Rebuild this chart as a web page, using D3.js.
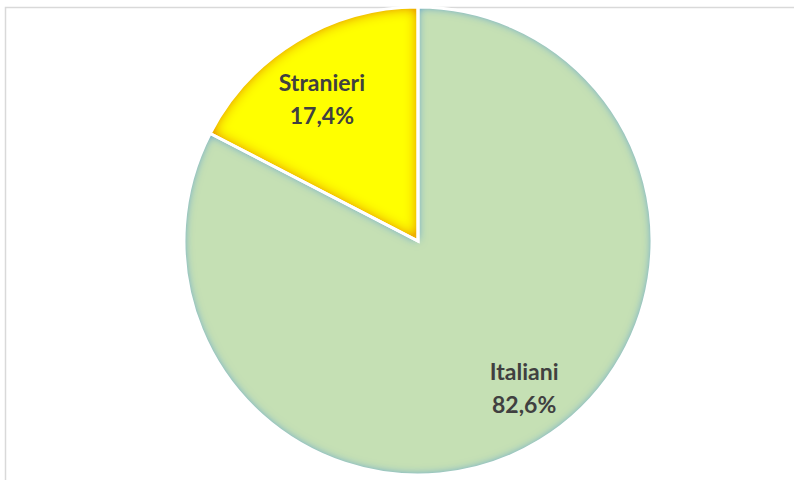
<!DOCTYPE html>
<html>
<head>
<meta charset="utf-8">
<script src="https://cdn.jsdelivr.net/npm/d3@7"></script>
<style>
  html, body { margin: 0; padding: 0; background: #ffffff; }
  svg { display: block; }
</style>
</head>
<body>
<svg id="chart" width="794" height="480"></svg>
<script>
// Composition of the population: Italians vs foreigners (percent)
const categories = ["Italiani", "Stranieri"];
const values = [82.6, 17.4];
const valueLabels = ["82,6%", "17,4%"];

const W = 794, H = 480;
const cx = 418, cy = 241, R = 234;

const fills = { "Italiani": "#c5e0b4", "Stranieri": "#ffff00" };
const edges = { "Italiani": "#82b9c4", "Stranieri": "#eeb000" };

const svg = d3.select("#chart");

// chart area frame
svg.append("rect")
  .attr("x", 5.5).attr("y", 7.5)
  .attr("width", W + 20).attr("height", H + 20)
  .attr("fill", "none")
  .attr("stroke", "#d9d9d9")
  .attr("stroke-width", 1.5);

// inner edge shading for each slice
const defs = svg.append("defs");
categories.forEach((c, i) => {
  const f = defs.append("filter")
    .attr("id", "inner" + i)
    .attr("x", "-10%").attr("y", "-10%")
    .attr("width", "120%").attr("height", "120%");
  f.append("feGaussianBlur").attr("in", "SourceAlpha")
    .attr("stdDeviation", c === "Stranieri" ? 7 : 5).attr("result", "blur");
  f.append("feComposite").attr("in", "SourceAlpha").attr("in2", "blur")
    .attr("operator", "out").attr("result", "rim0");
  const ct = f.append("feComponentTransfer").attr("in", "rim0").attr("result", "rim");
  ct.append("feFuncA").attr("type", "linear").attr("slope", 1.9).attr("intercept", 0);
  f.append("feFlood").attr("flood-color", edges[c]).attr("result", "col");
  f.append("feComposite").attr("in", "col").attr("in2", "rim")
    .attr("operator", "in").attr("result", "shade");
  f.append("feComposite").attr("in", "shade").attr("in2", "SourceAlpha")
    .attr("operator", "in").attr("result", "shadeClip");
  const m = f.append("feMerge");
  m.append("feMergeNode").attr("in", "SourceGraphic");
  m.append("feMergeNode").attr("in", "shadeClip");
});

const data = categories.map((c, i) => ({ name: c, value: values[i], label: valueLabels[i], idx: i }));

const pie = d3.pie().sort(null).value(d => d.value);
const arc = d3.arc().innerRadius(0).outerRadius(R);

const g = svg.append("g").attr("transform", `translate(${cx},${cy})`);

const arcs = pie(data);

g.selectAll("path.slice")
  .data(arcs)
  .join("path")
  .attr("class", "slice")
  .attr("d", arc)
  .attr("fill", d => fills[d.data.name])
  .attr("filter", d => `url(#inner${d.data.idx})`);

// white separators drawn over the slices
g.selectAll("path.sep")
  .data(arcs)
  .join("path")
  .attr("class", "sep")
  .attr("d", arc)
  .attr("fill", "none")
  .attr("stroke", "#ffffff")
  .attr("stroke-width", 3)
  .attr("stroke-linejoin", "miter");

// labels sit inside each slice, slightly rotated back from the mid-angle
const labelR = R * 0.755;
const labelTurn = -3.6 * Math.PI / 180;
const labels = g.selectAll("g.lbl")
  .data(arcs)
  .join("g")
  .attr("class", "lbl")
  .attr("transform", d => {
    const a = (d.startAngle + d.endAngle) / 2 + labelTurn;
    const x = labelR * Math.sin(a) + 5;
    const y = -labelR * Math.cos(a) + 2.5;
    return `translate(${x},${y})`;
  });

labels.append("text")
  .attr("text-anchor", "middle")
  .attr("y", -8)
  .attr("font-family", "Lato, 'Open Sans', sans-serif")
  .attr("font-weight", "bold")
  .attr("font-size", 23)
  .attr("fill", "#404040")
  .text(d => d.data.name);

labels.append("text")
  .attr("text-anchor", "middle")
  .attr("y", 25)
  .attr("font-family", "Lato, 'Open Sans', sans-serif")
  .attr("font-weight", "bold")
  .attr("font-size", 23)
  .attr("fill", "#404040")
  .text(d => d.data.label);
</script>
</body>
</html>
